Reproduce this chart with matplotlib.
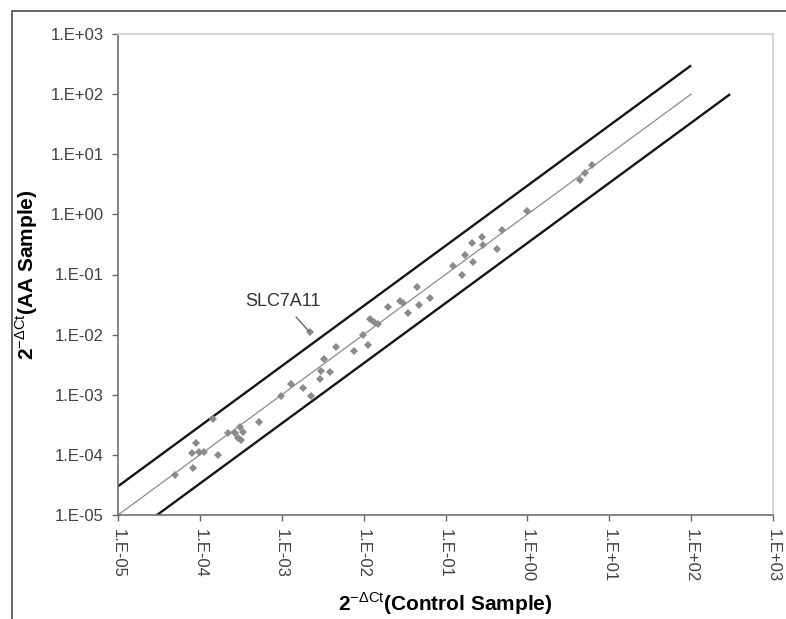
import matplotlib
import matplotlib.pyplot as plt
from matplotlib.patches import Rectangle

matplotlib.use("Agg")

plt.rcParams["font.family"] = ["Liberation Sans", "DejaVu Sans"]
plt.rcParams["mathtext.fontset"] = "custom"
plt.rcParams["mathtext.rm"] = "Liberation Sans"
plt.rcParams["mathtext.bf"] = "Liberation Sans:bold"

# 2^-dCt per gene: control sample vs AA sample
control = [4.97e-5, 8.2e-5, 8.9e-5, 8.0e-5, 9.8e-5, 1.12e-4, 1.45e-4, 1.66e-4,
           2.2e-4, 2.7e-4, 2.9e-4, 3.1e-4, 3.4e-4, 3.2e-4, 5.3e-4, 9.8e-4,
           1.29e-3, 1.82e-3, 2.3e-3, 2.2e-3, 2.9e-3, 3.0e-3, 3.3e-3, 3.9e-3,
           4.6e-3, 7.6e-3, 9.8e-3, 1.13e-2, 1.19e-2, 1.34e-2, 1.5e-2, 1.98e-2,
           2.8e-2, 3.0e-2, 3.5e-2, 4.5e-2, 4.7e-2, 6.5e-2, 0.123, 0.158,
           0.173, 0.216, 0.21, 0.278, 0.286, 0.425, 0.49, 0.99, 4.4, 5.0, 6.1]
aa_sample = [4.6e-5, 6.0e-5, 1.57e-4, 1.07e-4, 1.11e-4, 1.11e-4, 3.9e-4, 9.9e-5,
             2.3e-4, 2.3e-4, 1.9e-4, 2.9e-4, 2.4e-4, 1.76e-4, 3.5e-4, 9.5e-4,
             1.5e-3, 1.29e-3, 9.5e-4, 1.1e-2, 1.82e-3, 2.5e-3, 3.9e-3, 2.4e-3,
             6.2e-3, 5.3e-3, 9.8e-3, 6.7e-3, 1.81e-2, 1.61e-2, 1.5e-2, 2.9e-2,
             3.6e-2, 3.3e-2, 2.3e-2, 6.2e-2, 3.1e-2, 4.0e-2, 0.138, 0.098,
             0.21, 0.161, 0.33, 0.42, 0.31, 0.265, 0.55, 1.14, 3.7, 4.9, 6.6]

highlight_gene = "SLC7A11"
highlight_xy = (2.2e-3, 1.1e-2)

# identity line and 3-fold boundaries
fold = 3.0
identity_x = [1e-5, 1e2]
upper_x = [1e-5, 1e2]
lower_x = [3e-5, 3e2]

decades = [1e-5, 1e-4, 1e-3, 1e-2, 1e-1, 1e0, 1e1, 1e2, 1e3]
tick_labels = ["1.E-05", "1.E-04", "1.E-03", "1.E-02", "1.E-01",
               "1.E+00", "1.E+01", "1.E+02", "1.E+03"]


def main():
    fig = plt.figure(figsize=(7.86, 6.19), dpi=100)
    ax = fig.add_axes([118 / 786, 1 - 515 / 619, 655 / 786, 481 / 619])

    ax.plot(upper_x, [x * fold for x in upper_x], color="#151515", lw=1.7,
            solid_capstyle="butt", zorder=2)
    ax.plot(lower_x, [x / fold for x in lower_x], color="#151515", lw=1.7,
            solid_capstyle="butt", zorder=2)
    ax.plot(identity_x, identity_x, color="#8c8c8c", lw=0.9, zorder=2)
    ax.plot(control, aa_sample, linestyle="none", marker="D", markersize=4,
            color="#8a8a8a", markeredgewidth=0, zorder=3)

    # gene label with a short leader line down to its point
    fig.text(283 / 786, 1 - 302 / 619, highlight_gene, ha="center",
             va="center", fontsize=13, color="#333333")
    ax.annotate("", xy=highlight_xy, xytext=(296, 619 - 317),
                textcoords="figure pixels",
                arrowprops=dict(arrowstyle="-", color="#555555", lw=0.9,
                                shrinkA=0, shrinkB=1))

    ax.set_xscale("log")
    ax.set_yscale("log")
    ax.set_xlim(decades[0], decades[-1])
    ax.set_ylim(decades[0], decades[-1])
    ax.minorticks_off()
    ax.set_xticks(decades)
    ax.set_yticks(decades)
    ax.set_xticklabels(tick_labels, rotation=-90)
    ax.set_yticklabels(tick_labels)
    ax.tick_params(direction="out", length=4, width=1, color="#666666",
                   labelsize=12, labelcolor="#404040", pad=6)

    for side in ("left", "bottom"):
        ax.spines[side].set_color("#6e6e6e")
        ax.spines[side].set_linewidth(1.2)
    for side in ("top", "right"):
        ax.spines[side].set_color("#d0d0d0")
        ax.spines[side].set_linewidth(1.2)

    ax.set_xlabel(r"$\mathbf{2}^{\mathrm{-\Delta Ct}}$(Control Sample)",
                  fontsize=15, fontweight="bold", labelpad=6)
    ax.set_ylabel(r"$\mathbf{2}^{\mathrm{-\Delta Ct}}$(AA Sample)",
                  fontsize=15, fontweight="bold", labelpad=8)

    # outer chart frame
    fig.add_artist(Rectangle((12 / 786, -0.1), 1.2, 1.1 - 11 / 619,
                             transform=fig.transFigure, fill=False,
                             edgecolor="#4a4a4a", lw=1.2))

    fig.savefig("out.png", dpi=100)
    plt.close(fig)


if __name__ == "__main__":
    main()
